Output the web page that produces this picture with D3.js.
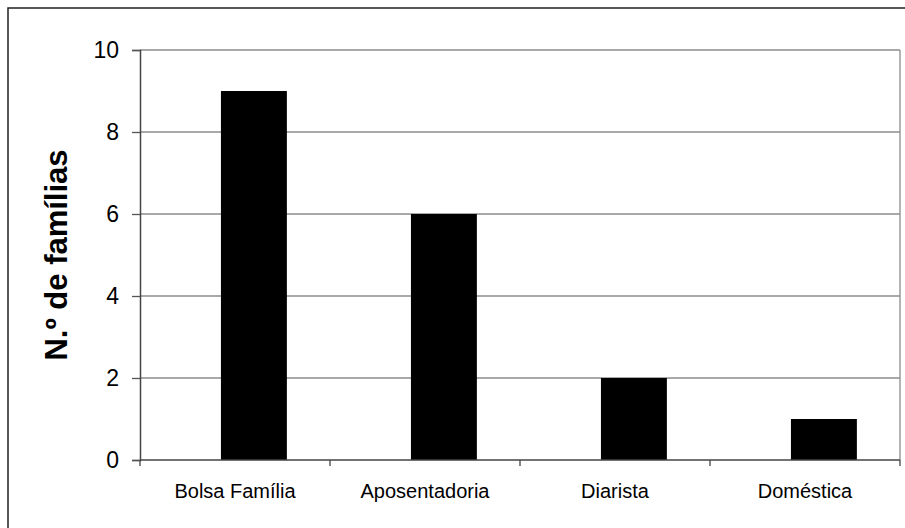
<!DOCTYPE html>
<html>
<head>
<meta charset="utf-8">
<script src="https://cdn.jsdelivr.net/npm/d3@7"></script>
<style>
  body { margin:0; background:#fff; }
  svg { display:block; font-family:"Liberation Sans", Arial, sans-serif; }
</style>
</head>
<body>
<svg></svg>
<script>
// 데이터
let categories = ['Bolsa Família','Aposentadoria','Diarista','Doméstica'];
let familias = [9,6,2,1];
let y_ticks = [0,2,4,6,8,10];
let y_title = 'N.º de famílias';

let W = 905, H = 528;
let plot = {left:140, right:900, top:50, bottom:460};

let svg = d3.select('svg').attr('width',W).attr('height',H);

// outer frame (runs off the right/bottom edge)
svg.append('rect').attr('x',8).attr('y',8).attr('width',W+20).attr('height',H+20)
  .attr('fill','none').attr('stroke','#222').attr('stroke-width',1.5);

let x = d3.scaleBand().domain(categories).range([plot.left,plot.right]).padding(0);
let y = d3.scaleLinear().domain([0,10]).range([plot.bottom,plot.top]);

// gridlines
svg.append('g').selectAll('line').data(y_ticks.filter(d=>d>0)).enter()
  .append('line')
  .attr('x1',plot.left).attr('x2',plot.right)
  .attr('y1',d=>y(d)).attr('y2',d=>y(d))
  .attr('stroke','#8c8c8c').attr('stroke-width',1.3);

// right border of plot
svg.append('line').attr('x1',plot.right).attr('x2',plot.right)
  .attr('y1',plot.top).attr('y2',plot.bottom)
  .attr('stroke','#8c8c8c').attr('stroke-width',1.3);

// bars
let bw = x.bandwidth();
svg.append('g').selectAll('rect').data(familias).enter()
  .append('rect')
  .attr('x',(d,i)=>x(categories[i]) + bw*0.426)
  .attr('width',bw*0.347)
  .attr('y',d=>y(d))
  .attr('height',d=>y(0)-y(d))
  .attr('fill','#000');

// y axis
let yAxis = d3.axisLeft(y).tickValues(y_ticks).tickSize(8).tickPadding(13).tickFormat(d3.format('d'));
let gy = svg.append('g').attr('transform','translate('+plot.left+',0)').call(yAxis);
gy.select('.domain').attr('stroke','#444').attr('stroke-width',1.5);
gy.selectAll('.tick line').attr('stroke','#555').attr('stroke-width',1.3);
gy.selectAll('.tick text').attr('font-size',23).attr('fill','#000')
  .attr('font-family','"Liberation Sans", Arial, sans-serif');

// x axis
let gx = svg.append('g').attr('transform','translate(0,'+plot.bottom+')');
gx.append('line').attr('x1',plot.left).attr('x2',plot.right).attr('y1',0).attr('y2',0)
  .attr('stroke','#444').attr('stroke-width',1.5);
gx.selectAll('line.tk').data(categories.map(c=>x(c)).concat([plot.right])).enter()
  .append('line').attr('class','tk')
  .attr('x1',d=>d).attr('x2',d=>d).attr('y1',0).attr('y2',6)
  .attr('stroke','#444').attr('stroke-width',1.3);
gx.selectAll('text').data(categories).enter()
  .append('text')
  .attr('x',d=>x(d)+bw/2).attr('y',38)
  .attr('text-anchor','middle').attr('font-size',20).attr('fill','#000')
  .text(d=>d);

// y title
svg.append('text')
  .attr('transform','translate(67,'+((plot.top+plot.bottom)/2)+') rotate(-90)')
  .attr('text-anchor','middle').attr('font-size',31).attr('font-weight','bold')
  .attr('fill','#000').text(y_title);
</script>
</body>
</html>
